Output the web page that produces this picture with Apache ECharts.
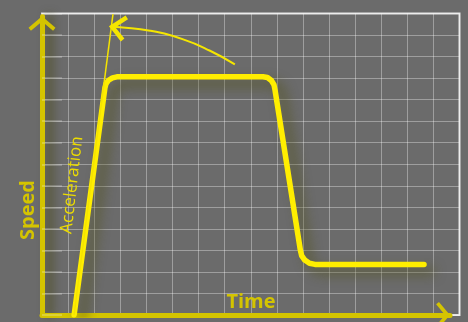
<!DOCTYPE html>
<html><head><meta charset="utf-8">
<script src="https://cdn.jsdelivr.net/npm/echarts@6/dist/echarts.min.js"></script>
<style>html,body{margin:0;padding:0;background:#6b6b6b}#c{width:468px;height:322px}</style>
</head><body><div id="c"></div>
<script>
// Speed profile (time units, speed units on the grid)
const curveX = [1.23, 2.41, 2.45, 2.55, 2.70, 2.87, 8.47, 8.64, 8.79, 8.89, 8.93, 9.90, 9.95, 10.07, 10.25, 10.46, 14.64];
const curveY = [0, 10.54, 10.73, 10.90, 11.01, 11.06, 11.06, 11.03, 10.89, 10.69, 10.45, 3.02, 2.76, 2.55, 2.40, 2.35, 2.35];
// Acceleration tangent line
const accelX = [1.23, 2.72];
const accelY = [0, 13.97];
// Curved annotation arrow
const arcX = [2.69, 2.99, 4.14, 5.41, 6.44, 7.39];
const arcY = [13.38, 13.36, 13.20, 12.80, 12.27, 11.64];
const headX = [3.25, 2.69, 3.09];
const headY = [13.82, 13.38, 12.77];
// Labels
const xName = 'Time';
const yName = 'Speed';
const accelName = 'Acceleration';

const pairs = (xs, ys) => xs.map((x, i) => [x, ys[i]]);
const chevron = 'path://M50 0 L100 42 L91 53 L50 19 L9 53 L0 42 Z';
const axisYellow = '#d4c400';

const chart = echarts.init(document.getElementById('c'), null, {renderer: 'canvas'});
chart.setOption({
  backgroundColor: '#6b6b6b',
  animation: false,
  grid: [
    {left: 42, right: 8.5, top: 13.5, bottom: 7, show: true, borderColor: '#e4e4e4', borderWidth: 2, backgroundColor: 'transparent'},
    {left: 42, right: 18, top: 16.5, bottom: 7}
  ],
  xAxis: [
    {type: 'value', gridIndex: 0, min: 0, max: 16, interval: 1,
     axisLine: {show: false}, axisTick: {show: false}, axisLabel: {show: false},
     splitLine: {show: true, lineStyle: {color: 'rgba(255,255,255,0.35)', width: 1}}},
    {type: 'value', gridIndex: 1, min: 0, max: 1,
     axisLine: {show: true, onZero: false, symbol: ['none', chevron], symbolSize: [26, 14], symbolOffset: [0, -7],
       lineStyle: {color: axisYellow, width: 5}},
     axisTick: {show: false}, axisLabel: {show: false}, splitLine: {show: false}}
  ],
  yAxis: [
    {type: 'value', gridIndex: 0, min: 0, max: 14, interval: 1,
     axisLine: {show: false}, axisLabel: {show: false},
     axisTick: {show: true, inside: true, length: 20, lineStyle: {color: 'rgba(255,255,255,0.22)', width: 2}},
     splitLine: {show: true, lineStyle: {color: 'rgba(255,255,255,0.35)', width: 1}}},
    {type: 'value', gridIndex: 1, min: 0, max: 1,
     axisLine: {show: true, onZero: false, symbol: ['none', chevron], symbolSize: [27, 14.5], symbolOffset: [0, -7],
       lineStyle: {color: axisYellow, width: 5, shadowColor: 'rgba(70,70,10,0.7)', shadowBlur: 10, shadowOffsetX: 7}},
     axisTick: {show: false}, axisLabel: {show: false}, splitLine: {show: false}}
  ],
  series: [
    {type: 'line', xAxisIndex: 0, yAxisIndex: 0, data: pairs(curveX, curveY), showSymbol: false, smooth: false,
     lineStyle: {color: '#ffee00', width: 5.5, cap: 'round', join: 'round',
       shadowColor: 'rgba(80,80,20,0.75)', shadowBlur: 12, shadowOffsetX: 8, shadowOffsetY: 7}, z: 3},
    {type: 'line', xAxisIndex: 0, yAxisIndex: 0, data: pairs(accelX, accelY), showSymbol: false,
     lineStyle: {color: '#f5e400', width: 1.5}, z: 4},
    {type: 'line', xAxisIndex: 0, yAxisIndex: 0, data: pairs(arcX, arcY), showSymbol: false, smooth: true,
     lineStyle: {color: '#f5e600', width: 2}, z: 4},
    {type: 'line', xAxisIndex: 0, yAxisIndex: 0, data: pairs(headX, headY), showSymbol: false,
     lineStyle: {color: '#f5e600', width: 4.5, join: 'miter'}, z: 4}
  ],
  graphic: [
    {type: 'text', x: 28, y: 210, rotation: Math.PI / 2, z: 10,
     style: {text: yName, font: 'bold 20px "Open Sans"', fill: axisYellow, align: 'center', verticalAlign: 'middle'}},
    {type: 'text', x: 251, y: 302, z: 10,
     style: {text: xName, font: 'bold 20px "Open Sans"', fill: axisYellow, align: 'center', verticalAlign: 'middle'}},
    {type: 'text', x: 72, y: 185, rotation: 1.457, z: 10,
     style: {text: accelName, font: '17px "Open Sans"', fill: '#ecdc00', align: 'center', verticalAlign: 'middle'}}
  ]
});
</script></body></html>
